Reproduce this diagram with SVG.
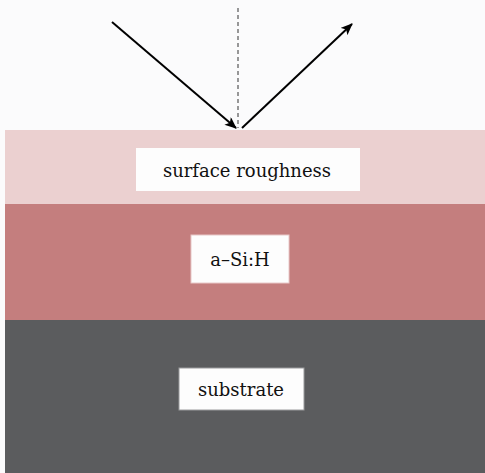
<svg xmlns="http://www.w3.org/2000/svg" width="485" height="473" viewBox="0 0 485 473">
<style>
.lbl{font-family:'DejaVu Serif', serif;font-size:18px;fill:#111;text-anchor:middle}
.box{fill:#fdfdfd}
.ray{stroke:#000;stroke-width:2;fill:none}
</style>
<defs>
<marker id="ah" viewBox="0 0 12 10" refX="11" refY="5" markerWidth="12" markerHeight="10" markerUnits="userSpaceOnUse" orient="auto">
<path d="M0,0 L12,5 L0,10 L3,5 Z" fill="#000"/>
</marker>
</defs>
<rect x="0" y="0" width="485" height="473" fill="#fbfbfc"/>
<g id="surface">
<rect x="5" y="130" width="480" height="74" fill="#ebd0d0"/>
<rect class="box" x="136" y="148" width="224" height="43"/>
<text class="lbl" x="247" y="177">surface roughness</text>
</g>
<g id="asih">
<rect x="5" y="204" width="480" height="116" fill="#c47e7e"/>
<rect class="box" x="191" y="235" width="98" height="48" stroke="#e8c8c8" stroke-width="1"/>
<text class="lbl" x="240" y="266">a–Si:H</text>
</g>
<g id="substrate">
<rect x="5" y="320" width="480" height="153" fill="#5b5c5e"/>
<rect class="box" x="179" y="368" width="125" height="42" stroke="#9a9a9c" stroke-width="1"/>
<text class="lbl" x="241" y="396">substrate</text>
</g>
<g id="connectors">
<line x1="238" y1="8" x2="238" y2="128" stroke="#555" stroke-width="1.2" stroke-dasharray="4,3"/>
<line class="ray" x1="112" y1="22" x2="236" y2="128" marker-end="url(#ah)"/>
<line class="ray" x1="242" y1="128" x2="352" y2="24" marker-end="url(#ah)"/>
</g>
</svg>
